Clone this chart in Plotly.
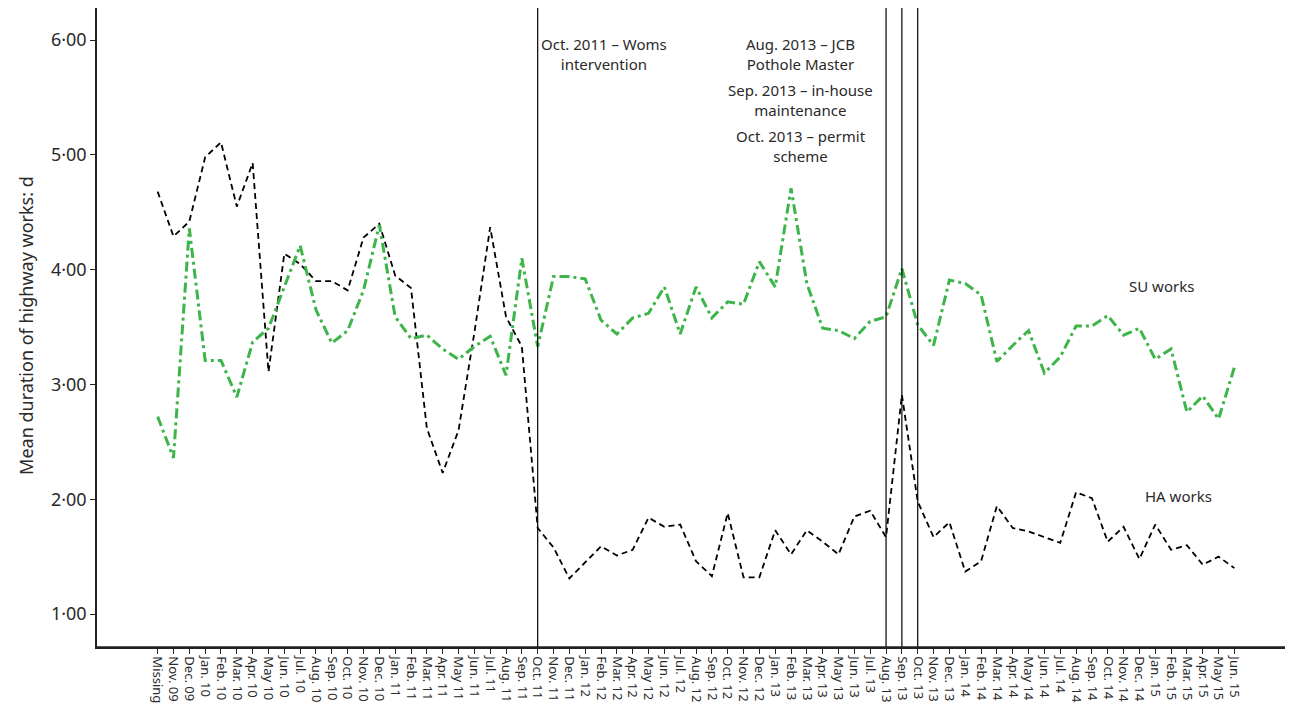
import plotly.graph_objects as go

months = ["Jan.", "Feb.", "Mar.", "Apr.", "May", "Jun.", "Jul.", "Aug.", "Sep.", "Oct.", "Nov.", "Dec."]
categories = ["Missing", "Nov. 09", "Dec. 09"]
for yr in ["10", "11", "12", "13", "14"]:
    categories += [f"{m} {yr}" for m in months]
categories += [f"{m} 15" for m in months[:6]]

ha_works = [4.68, 4.29, 4.42, 4.98, 5.11, 4.55, 4.93, 3.11, 4.14, 4.05, 3.90, 3.90, 3.82, 4.28, 4.40,
            3.95, 3.84, 2.62, 2.23, 2.60, 3.45, 4.37, 3.59, 3.33, 1.75, 1.58, 1.31, 1.45, 1.59, 1.51,
            1.56, 1.84, 1.76, 1.78, 1.46, 1.33, 1.88, 1.32, 1.32, 1.73, 1.52, 1.73, 1.63, 1.52, 1.85,
            1.90, 1.67, 2.91, 1.98, 1.67, 1.80, 1.37, 1.46, 1.94, 1.75, 1.72, 1.67, 1.62, 2.06, 2.01,
            1.63, 1.76, 1.48, 1.78, 1.56, 1.60, 1.43, 1.50, 1.40]

su_works = [2.72, 2.36, 4.36, 3.21, 3.21, 2.89, 3.37, 3.49, 3.85, 4.21, 3.65, 3.36, 3.47, 3.82, 4.39,
            3.59, 3.40, 3.43, 3.31, 3.22, 3.33, 3.42, 3.08, 4.10, 3.33, 3.94, 3.94, 3.92, 3.56, 3.44,
            3.58, 3.62, 3.85, 3.44, 3.85, 3.58, 3.72, 3.70, 4.07, 3.85, 4.71, 3.88, 3.49, 3.47, 3.40,
            3.55, 3.59, 4.01, 3.52, 3.34, 3.91, 3.88, 3.78, 3.20, 3.34, 3.47, 3.10, 3.24, 3.51, 3.51,
            3.60, 3.43, 3.49, 3.22, 3.31, 2.76, 2.90, 2.70, 3.15]

event_months = ["Oct. 11", "Aug. 13", "Sep. 13", "Oct. 13"]
y_ticks = [1, 2, 3, 4, 5, 6]
y_tick_text = ["1·00", "2·00", "3·00", "4·00", "5·00", "6·00"]

FONT = "Noto Sans"
TXT = "#2a2a2a"
AXC = "#222222"

fig = go.Figure()
fig.add_trace(go.Scatter(x=categories, y=ha_works, mode="lines", name="HA works",
                         line=dict(color="black", width=1.8, dash="6px,4px")))
fig.add_trace(go.Scatter(x=categories, y=su_works, mode="lines", name="SU works",
                         line=dict(color="#3DB54A", width=3, dash="10px,4px,3px,4px")))

for m in event_months:
    fig.add_shape(type="line", xref="x", yref="paper", x0=m, x1=m, y0=0, y1=1,
                  line=dict(color="black", width=1.2))
# bottom axis line across the full plotting width
fig.add_shape(type="line", xref="paper", yref="paper", x0=0, x1=1, y0=0, y1=0,
              line=dict(color=AXC, width=1.5))

ann_font = dict(family=FONT, size=15, color=TXT)
fig.add_annotation(x=28.2, y=5.88, text="Oct. 2011 – Woms<br>intervention", showarrow=False,
                   font=ann_font, align="center")
fig.add_annotation(x=40.6, y=5.88, text="Aug. 2013 – JCB<br>Pothole Master", showarrow=False,
                   font=ann_font, align="center")
fig.add_annotation(x=40.6, y=5.48, text="Sep. 2013 – in-house<br>maintenance", showarrow=False,
                   font=ann_font, align="center")
fig.add_annotation(x=40.6, y=5.08, text="Oct. 2013 – permit<br>scheme", showarrow=False,
                   font=ann_font, align="center")
fig.add_annotation(x=63.4, y=3.86, text="SU works", showarrow=False, font=ann_font)
fig.add_annotation(x=64.5, y=2.03, text="HA works", showarrow=False, font=ann_font)

fig.add_annotation(xref="paper", yref="paper", x=-0.0594, y=0.504, xanchor="center", yanchor="middle",
                   text="Mean duration of highway works: d", textangle=-90, showarrow=False,
                   font=dict(family=FONT, size=18, color=TXT))

fig.update_xaxes(type="category", range=[-3.83, 71.7], showline=True, linecolor=AXC, linewidth=1.5,
                 ticks="outside", ticklen=5, tickcolor=AXC, tickangle=90, showgrid=False, zeroline=False,
                 tickmode="array", tickvals=categories, ticktext=categories, automargin=False,
                 tickfont=dict(family=FONT, size=13, color=TXT))
fig.update_yaxes(range=[0.713, 6.28], showline=True, linecolor=AXC, linewidth=1.5,
                 ticks="outside", ticklen=5, tickcolor=AXC, showgrid=False, zeroline=False,
                 tickvals=y_ticks, ticktext=y_tick_text, automargin=False,
                 tickfont=dict(family=FONT, size=18, color=TXT))

fig.update_layout(width=1285, height=706, margin=dict(l=89, r=0, t=0, b=67, autoexpand=False),
                  plot_bgcolor="white", paper_bgcolor="white", showlegend=False)

fig.write_html("out.html")
